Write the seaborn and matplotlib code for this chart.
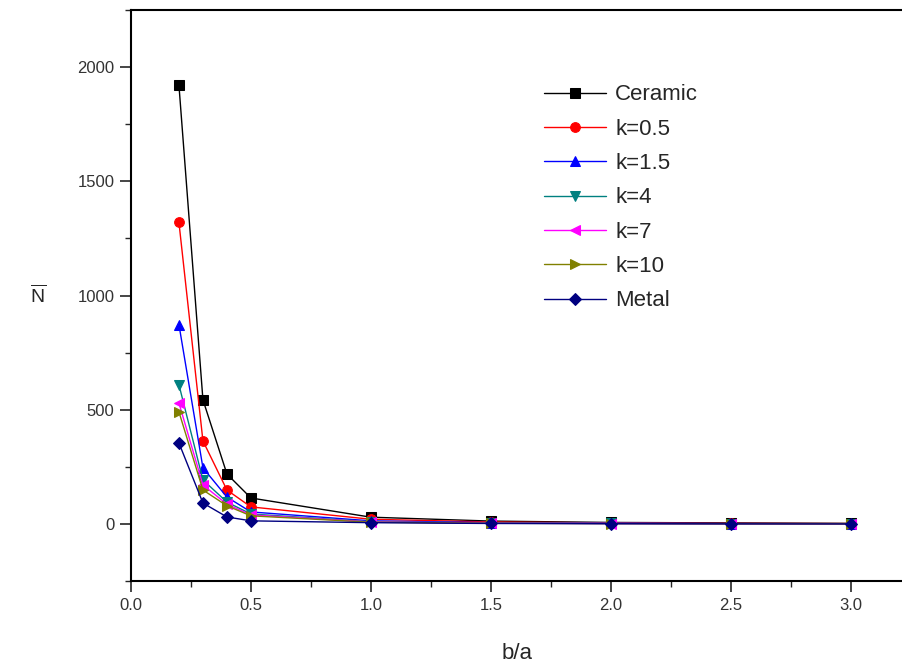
import matplotlib
matplotlib.use("Agg")
import matplotlib.pyplot as plt
from matplotlib.ticker import MultipleLocator
import seaborn as sns

# data
b_a = [0.2, 0.3, 0.4, 0.5, 1.0, 1.5, 2.0, 2.5, 3.0]
ceramic = [1921, 544, 219, 114, 30, 13, 7, 5, 3]
k05 = [1320, 364, 149, 75, 21, 9, 5, 3, 2]
k15 = [873, 246, 118, 53, 14, 6, 3.5, 2, 1.5]
k4 = [610, 193, 96, 44, 10, 4.5, 2.5, 1.6, 1.1]
k7 = [530, 171, 87, 40, 9, 4, 2.2, 1.4, 1.0]
k10 = [491, 149, 80, 36, 8, 3.5, 2.0, 1.3, 0.9]
metal = [355, 92, 31, 14, 6, 2.5, 1.5, 1.0, 0.7]

series = ["Ceramic", "k=0.5", "k=1.5", "k=4", "k=7", "k=10", "Metal"]
values = [ceramic, k05, k15, k4, k7, k10, metal]
colors = ["#000000", "#ff0000", "#0000ff", "#008080", "#ff00ff", "#808000", "#000080"]
markers = ["s", "o", "^", "v", "<", ">", "D"]

sns.set_style("white")
plt.rcParams["font.family"] = ["Liberation Sans", "DejaVu Sans"]

fig = plt.figure(figsize=(9.03, 6.68), dpi=100)
ax = fig.add_axes([0.145, 0.130, 0.855, 0.855])

for name, vals, c, m in zip(series, values, colors, markers):
    sns.lineplot(x=b_a, y=vals, ax=ax, color=c, marker=m, markersize=7 if m != "D" else 6.5,
                 markeredgecolor=c, linewidth=1.0, label=name)

ax.set_xlim(0, 3.217)
ax.set_ylim(-250, 2250)
ax.xaxis.set_major_locator(MultipleLocator(0.5))
ax.xaxis.set_minor_locator(MultipleLocator(0.25))
ax.yaxis.set_major_locator(MultipleLocator(500))
ax.yaxis.set_minor_locator(MultipleLocator(250))
ax.xaxis.set_major_formatter(matplotlib.ticker.FormatStrFormatter("%.1f"))

ax.spines["right"].set_visible(False)
for s in ["left", "bottom", "top"]:
    ax.spines[s].set_color("black")
    ax.spines[s].set_linewidth(1.5)
ax.tick_params(axis="both", which="major", direction="out", length=8, width=1.2, pad=4,
               labelsize=12, labelcolor="#333333", bottom=True, left=True, top=False)
ax.tick_params(axis="both", which="minor", direction="out", length=4, width=1.0,
               bottom=True, left=True, top=False)

ax.set_xlabel("b/a", fontsize=16, labelpad=22)
ax.set_ylabel(r"$\overline{\mathregular{N}}$", fontsize=14, rotation=0, labelpad=28, va="center")

leg = ax.legend(loc="upper left", bbox_to_anchor=(0.509, 0.905), frameon=False, fontsize=16,
                handlelength=2.8, labelspacing=0.6, handletextpad=0.4)

fig.savefig("out.png", dpi=100)
